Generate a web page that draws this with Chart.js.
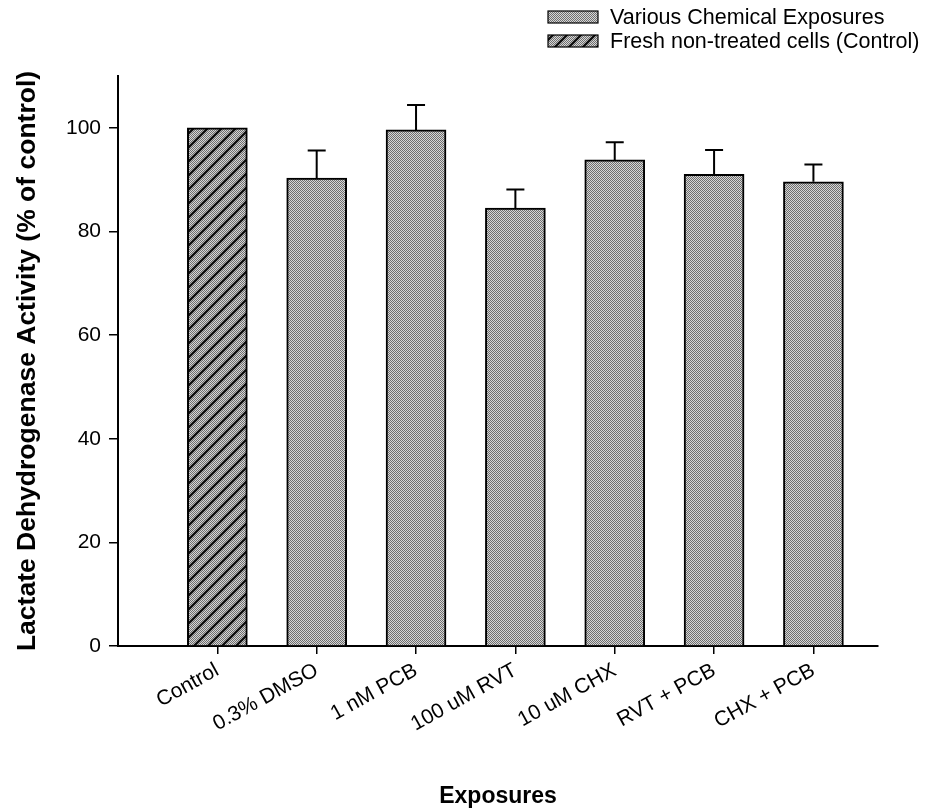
<!DOCTYPE html>
<html>
<head>
<meta charset="utf-8">
<script src="https://cdn.jsdelivr.net/npm/chart.js@4/dist/chart.umd.min.js"></script>
<style>
    html, body { margin: 0; padding: 0; background: #fff; }
    #wrap { width: 934px; height: 812px; }
</style>
</head>
<body>
<div id="wrap"><canvas id="ldh" width="934" height="812"></canvas></div>
<script>
const exposures = ['Control', '0.3% DMSO', '1 nM PCB', '100 uM RVT', '10 uM CHX', 'RVT + PCB', 'CHX + PCB'];
const activity = [100, 90.3, 99.6, 84.5, 93.8, 91.0, 89.6];
const errUp = [0, 5.3, 4.8, 3.6, 3.4, 4.7, 3.3];
const yTicks = [0, 20, 40, 60, 80, 100];
const legendLabels = ['Various Chemical Exposures', 'Fresh non-treated cells (Control)'];

const canvas = document.getElementById('ldh');
const ctx = canvas.getContext('2d');
const font = '"Liberation Sans", Arial, sans-serif';

// grey stipple fill, optionally with "/" hatching on top
const makeStipple = (hatch) => {
    const size = 14;
    const c = document.createElement('canvas');
    c.width = size; c.height = size;
    const g = c.getContext('2d');
    for (let y = 0; y < size; y++) {
        for (let x = 0; x < size; x++) {
            g.fillStyle = (x + y) % 2 === 0 ? '#6e6e6e' : '#d6d6d6';
            g.fillRect(x, y, 1, 1);
        }
    }
    if (hatch) {
        g.strokeStyle = '#111';
        g.lineWidth = 2.4;
        g.beginPath();
        g.moveTo(-2, size + 2); g.lineTo(size + 2, -2);
        g.moveTo(-2, 2); g.lineTo(2, -2);
        g.moveTo(size - 2, size + 2); g.lineTo(size + 2, size - 2);
        g.stroke();
    }
    return ctx.createPattern(c, 'repeat');
};
const plainFill = makeStipple(false);
const hatchFill = makeStipple(true);

const errorBars = {
    id: 'errorBars',
    afterDatasetsDraw(chart) {
        const meta = chart.getDatasetMeta(0);
        const yScale = chart.scales.y;
        const c = chart.ctx;
        c.save();
        c.strokeStyle = '#000';
        c.lineWidth = 2;
        meta.data.forEach((bar, i) => {
            if (!errUp[i]) return;
            const top = yScale.getPixelForValue(activity[i] + errUp[i]);
            c.beginPath();
            c.moveTo(bar.x, bar.y);
            c.lineTo(bar.x, top);
            c.moveTo(bar.x - 9, top);
            c.lineTo(bar.x + 9, top);
            c.stroke();
        });
        c.restore();
    }
};

const boxLegend = {
    id: 'boxLegend',
    afterDraw(chart) {
        const c = chart.ctx;
        const fills = [plainFill, hatchFill];
        c.save();
        c.font = '21.5px ' + font;
        c.textBaseline = 'middle';
        legendLabels.forEach((txt, i) => {
            const y = 17 + i * 24;
            c.fillStyle = fills[i];
            c.fillRect(548, y - 6, 50, 12);
            c.strokeStyle = '#000';
            c.lineWidth = 1.2;
            c.strokeRect(548, y - 6, 50, 12);
            c.fillStyle = '#000';
            c.fillText(txt, 610, y + 1);
        });
        c.restore();
    }
};

new Chart(canvas, {
    type: 'bar',
    data: {
        datasets: [{
            data: activity.map((v, i) => ({ x: i + 1, y: v })),
            backgroundColor: activity.map((_, i) => i === 0 ? hatchFill : plainFill),
            borderColor: '#000',
            borderWidth: 2,
            borderSkipped: 'bottom',
            barThickness: 60
        }]
    },
    options: {
        responsive: false,
        animation: false,
        layout: { padding: { top: 76, right: 56, left: 0, bottom: 0 } },
        plugins: {
            legend: { display: false },
            tooltip: { enabled: false }
        },
        scales: {
            x: {
                type: 'linear',
                offset: false,
                min: 0,
                max: 7.65,
                afterBuildTicks: (scale) => {
                    scale.ticks = exposures.map((_, i) => ({ value: i + 1 }));
                },
                afterFit: (scale) => { scale.height = 166; },
                ticks: {
                    callback: (v) => exposures[v - 1] || '',
                    minRotation: 29,
                    maxRotation: 29,
                    color: '#000',
                    font: { family: font, size: 21 },
                    padding: 4
                },
                grid: { offset: false, drawOnChartArea: false, drawTicks: true, tickLength: 8, color: '#000', lineWidth: 1.5 },
                border: { display: true, color: '#000', width: 2 },
                title: {
                    display: true,
                    text: 'Exposures',
                    color: '#000',
                    font: { family: font, size: 23, weight: 'bold' },
                    padding: { top: 0, bottom: 2 }
                }
            },
            y: {
                min: 0,
                max: 110,
                afterBuildTicks: (scale) => {
                    scale.ticks = yTicks.map(v => ({ value: v }));
                },
                afterFit: (scale) => { scale.width = 118; },
                ticks: {
                    color: '#000',
                    font: { family: font, size: 21 },
                    padding: 8
                },
                grid: { drawOnChartArea: false, drawTicks: true, tickLength: 9, color: '#000', lineWidth: 1.5 },
                border: { display: true, color: '#000', width: 2 },
                title: {
                    display: true,
                    text: 'Lactate Dehydrogenase Activity (% of control)',
                    color: '#000',
                    font: { family: font, size: 26.5, weight: 'bold' },
                    padding: { top: 12, bottom: 0 }
                }
            }
        }
    },
    plugins: [errorBars, boxLegend]
});
</script>
</body>
</html>
